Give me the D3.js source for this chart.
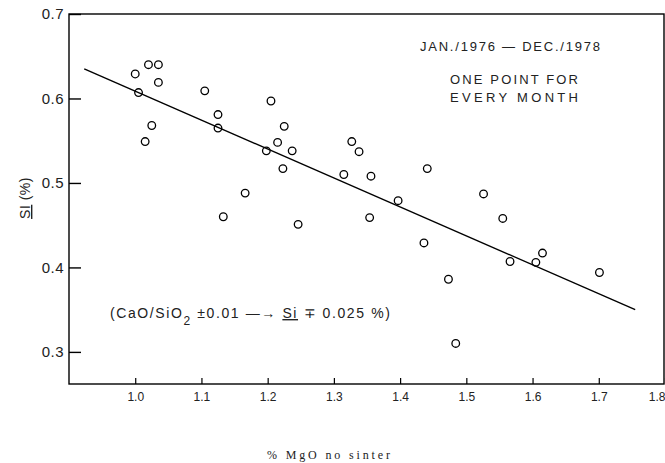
<!DOCTYPE html>
<html>
<head>
<meta charset="utf-8">
<script src="https://cdnjs.cloudflare.com/ajax/libs/d3/7.8.5/d3.min.js"></script>
<style>
  body { margin: 0; background: #fff; }
  svg { display: block; }
  text { fill: #222; }
</style>
</head>
<body>
<div id="chart"></div>
<script>
// % MgO in sinter (x) vs Si in hot metal (y), one point per month
var mgo = [1.02, 1.035, 1.00, 1.035, 1.005, 1.105, 1.125, 1.125, 1.025, 1.015,
           1.205, 1.225, 1.215, 1.198, 1.237, 1.223, 1.166, 1.133, 1.246,
           1.327, 1.338, 1.315, 1.356, 1.441, 1.397, 1.354, 1.436,
           1.526, 1.555, 1.566, 1.615, 1.605, 1.701, 1.473, 1.484];
var si = [0.640, 0.640, 0.629, 0.619, 0.607, 0.609, 0.581, 0.565, 0.568, 0.549,
          0.597, 0.567, 0.548, 0.538, 0.538, 0.517, 0.488, 0.460, 0.451,
          0.549, 0.537, 0.510, 0.508, 0.517, 0.479, 0.459, 0.429,
          0.487, 0.458, 0.407, 0.417, 0.406, 0.394, 0.386, 0.310];

// regression line end points
var fitX = [0.923, 1.755];
var fitY = [0.635, 0.350];

var xTicks = [1.0, 1.1, 1.2, 1.3, 1.4, 1.5, 1.6, 1.7, 1.8];
var yTicks = [0.3, 0.4, 0.5, 0.6, 0.7];

var width = 665, height = 463;

var svg = d3.select('#chart').append('svg')
  .attr('width', width)
  .attr('height', height);

var x = d3.scaleLinear().domain([0.9, 1.8]).range([69, 665]);
var y = d3.scaleLinear().domain([0.262, 0.7]).range([384, 14]);

// frame
svg.append('rect')
  .attr('x', x(0.9))
  .attr('y', y(0.7))
  .attr('width', x(1.8) - x(0.9) - 1)
  .attr('height', y(0.262) - y(0.7))
  .attr('fill', 'none')
  .attr('stroke', '#000')
  .attr('stroke-width', 1.4);

var yAxis = svg.append('g')
  .attr('transform', 'translate(' + x(0.9) + ',0)')
  .call(d3.axisLeft(y).tickValues(yTicks).tickSize(-12).tickPadding(5).tickFormat(d3.format('.1f')));

yAxis.select('.domain').remove();
yAxis.selectAll('line').attr('stroke', '#000').attr('stroke-width', 1.4);
yAxis.selectAll('text')
  .attr('font-family', 'Liberation Sans, Arial, sans-serif')
  .attr('font-size', 15)
  .attr('letter-spacing', 0.5)
  .attr('fill', '#222');

var xAxis = svg.append('g')
  .attr('transform', 'translate(0,' + y(0.262) + ')')
  .call(d3.axisBottom(x).tickValues(xTicks).tickSize(-6).tickPadding(8).tickFormat(d3.format('.1f')));

xAxis.select('.domain').remove();
xAxis.selectAll('line').attr('stroke', '#000').attr('stroke-width', 1.2);
xAxis.selectAll('text')
  .attr('font-family', 'Liberation Sans, Arial, sans-serif')
  .attr('font-size', 12)
  .attr('fill', '#333');
// last label sits on the page edge, keep it inside
xAxis.selectAll('text').filter(function (d) { return d === 1.8; })
  .attr('text-anchor', 'end');

// regression line
svg.append('line')
  .attr('x1', x(fitX[0]))
  .attr('y1', y(fitY[0]))
  .attr('x2', x(fitX[1]))
  .attr('y2', y(fitY[1]))
  .attr('stroke', '#000')
  .attr('stroke-width', 1.4);

// monthly points
svg.append('g').selectAll('circle')
  .data(d3.range(mgo.length))
  .join('circle')
  .attr('cx', function (i) { return x(mgo[i]); })
  .attr('cy', function (i) { return y(si[i]); })
  .attr('r', 3.8)
  .attr('fill', 'none')
  .attr('stroke', '#000')
  .attr('stroke-width', 1.3);

// annotations
var note = svg.append('g')
  .attr('font-family', 'Liberation Sans, Arial, sans-serif')
  .attr('font-size', 13);

note.append('text')
  .attr('x', 420).attr('y', 51)
  .attr('textLength', 180).attr('lengthAdjust', 'spacing')
  .text('JAN./1976 \u2014 DEC./1978');

note.append('text')
  .attr('x', 450).attr('y', 84)
  .attr('textLength', 128).attr('lengthAdjust', 'spacing')
  .text('ONE POINT FOR');

note.append('text')
  .attr('x', 450).attr('y', 102)
  .attr('textLength', 128).attr('lengthAdjust', 'spacing')
  .text('EVERY MONTH');

var formula = svg.append('text')
  .attr('x', 110).attr('y', 318)
  .attr('font-family', 'Liberation Sans, Arial, sans-serif')
  .attr('font-size', 14)
  .attr('letter-spacing', 1.6);
formula.append('tspan').text('(CaO/SiO');
formula.append('tspan').attr('baseline-shift', 'sub').attr('font-size', 12).text('2');
formula.append('tspan').text(' \u00b10.01 \u2014\u2192 ');
formula.append('tspan').attr('text-decoration', 'underline').text('Si');
formula.append('tspan').text(' \u2213 0.025  %)');

// axis titles
var yTitle = svg.append('text')
  .attr('transform', 'translate(30,198) rotate(-90)')
  .attr('text-anchor', 'middle')
  .attr('font-family', 'Liberation Sans, Arial, sans-serif')
  .attr('font-size', 14)
  .attr('letter-spacing', 0.5);
yTitle.append('tspan').attr('text-decoration', 'underline').text('SI');
yTitle.append('tspan').text(' (%)');

svg.append('text')
  .attr('x', 267).attr('y', 459)
  .attr('font-family', 'Liberation Serif, Times New Roman, serif')
  .attr('font-size', 12)
  .attr('textLength', 123).attr('lengthAdjust', 'spacing')
  .text('%  MgO no sinter');
</script>
</body>
</html>
